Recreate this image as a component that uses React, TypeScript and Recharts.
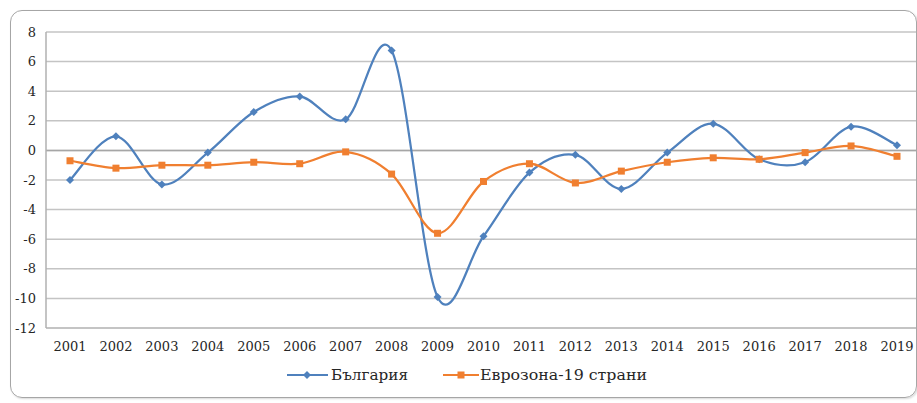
import { LineChart, Line, XAxis, YAxis, CartesianGrid, Legend, ReferenceLine } from "recharts"

const years = [
  "2001", "2002", "2003", "2004", "2005", "2006", "2007", "2008", "2009", "2010",
  "2011", "2012", "2013", "2014", "2015", "2016", "2017", "2018", "2019",
]
const bulgaria = [-2.0, 0.95, -2.3, -0.15, 2.6, 3.65, 2.1, 6.75, -9.9, -5.8, -1.5, -0.3, -2.6, -0.15, 1.8, -0.6, -0.8, 1.6, 0.35]
const eurozone = [-0.7, -1.2, -1.0, -1.0, -0.8, -0.9, -0.1, -1.6, -5.6, -2.1, -0.9, -2.2, -1.4, -0.8, -0.5, -0.6, -0.15, 0.3, -0.4]
const yTicks = [-12, -10, -8, -6, -4, -2, 0, 2, 4, 6, 8]

const data = years.map((year, i) => ({ year, bg: bulgaria[i], ez: eurozone[i] }))

const BLUE = "#4f81bd"
const ORANGE = "#f07f30"
const FONT = '"DejaVu Serif", "Liberation Serif", serif'

// Excel-like smoothing (Catmull-Rom through the points)
const excelSmooth = (context: any) => {
  let pts: number[][] = []
  return {
    areaStart() {},
    areaEnd() {},
    lineStart() {
      pts = []
    },
    point(x: number, y: number) {
      pts.push([+x, +y])
    },
    lineEnd() {
      if (!pts.length) return
      context.moveTo(pts[0][0], pts[0][1])
      for (let i = 0; i < pts.length - 1; i++) {
        const p0 = pts[i - 1] || pts[i]
        const p1 = pts[i]
        const p2 = pts[i + 1]
        const p3 = pts[i + 2] || p2
        context.bezierCurveTo(
          p1[0] + (p2[0] - p0[0]) / 6,
          p1[1] + (p2[1] - p0[1]) / 6,
          p2[0] - (p3[0] - p1[0]) / 6,
          p2[1] - (p3[1] - p1[1]) / 6,
          p2[0],
          p2[1]
        )
      }
    },
  }
}

const Diamond = (props: any) => {
  const { cx, cy, index } = props
  if (cx == null || cy == null) return <g key={index} />
  return <path key={index} d={`M${cx},${cy - 4}L${cx + 4},${cy}L${cx},${cy + 4}L${cx - 4},${cy}Z`} fill={BLUE} />
}

const Square = (props: any) => {
  const { cx, cy, index } = props
  if (cx == null || cy == null) return <g key={index} />
  return <rect key={index} x={cx - 3.5} y={cy - 3.5} width={7} height={7} fill={ORANGE} />
}

const LegendContent = () => (
  <svg width={917} height={26} style={{ display: "block" }}>
    <line x1={287} x2={328} y1={13} y2={13} stroke={BLUE} strokeWidth={2} />
    <path d="M307,9L311,13L307,17L303,13Z" fill={BLUE} />
    <text x={331} y={18} fontFamily={FONT} fontSize={15} fill="#262626" textLength={77} lengthAdjust="spacingAndGlyphs">
      България
    </text>
    <line x1={443} x2={479} y1={13} y2={13} stroke={ORANGE} strokeWidth={2} />
    <rect x={457.5} y={9.5} width={7} height={7} fill={ORANGE} />
    <text x={480} y={18} fontFamily={FONT} fontSize={15} fill="#262626" textLength={167} lengthAdjust="spacingAndGlyphs">
      Еврозона-19 страни
    </text>
  </svg>
)

export default function App() {
  return (
    <div
      style={{
        position: "absolute",
        left: 0,
        top: 0,
        width: 917,
        height: 403,
        background: "#fff",
        overflow: "hidden",
        fontFamily: FONT,
      }}
    >
      <div
        style={{
          position: "absolute",
          left: 10,
          top: 10,
          width: 905,
          height: 386,
          border: "1px solid #a6a6a6",
          borderRadius: 12,
          overflow: "hidden",
          boxShadow: "1px 1px 2px rgba(0,0,0,0.15)",
        }}
      >
        <div style={{ position: "absolute", left: -11, top: -11 }}>
          <LineChart
            width={930}
            height={403}
            data={data}
            margin={{ top: 32, right: 10, bottom: 45, left: 0 }}
          >
            <CartesianGrid vertical={false} stroke="#c4c4c4" strokeWidth={1.5} />
            <XAxis
              dataKey="year"
              padding={{ left: 24, right: 23 }}
              height={30}
              tickLine={false}
              axisLine={{ stroke: "#bfbfbf", strokeWidth: 1.5 }}
              tickMargin={8}
              interval={0}
              tick={{ fontSize: 13, fill: "#262626", fontFamily: FONT }}
            />
            <YAxis
              domain={[-12, 8]}
              ticks={yTicks}
              interval={0}
              width={46}
              tickLine={false}
              axisLine={{ stroke: "#b0b0b0", strokeWidth: 1.5 }}
              tickMargin={4}
              tick={{ fontSize: 13, fill: "#262626", fontFamily: FONT }}
            />
            <ReferenceLine y={0} stroke="#a6a6a6" strokeWidth={1.5} />
            <Line
              dataKey="bg"
              name="България"
              type={excelSmooth as any}
              stroke={BLUE}
              strokeWidth={2.25}
              dot={Diamond}
              activeDot={false}
              isAnimationActive={false}
            />
            <Line
              dataKey="ez"
              name="Еврозона-19 страни"
              type={excelSmooth as any}
              stroke={ORANGE}
              strokeWidth={2.25}
              dot={Square}
              activeDot={false}
              isAnimationActive={false}
            />
            <Legend
              verticalAlign="middle"
              align="center"
              wrapperStyle={{ left: 0, top: 362, width: 917 }}
              content={LegendContent}
            />
          </LineChart>
        </div>
      </div>
    </div>
  )
}
